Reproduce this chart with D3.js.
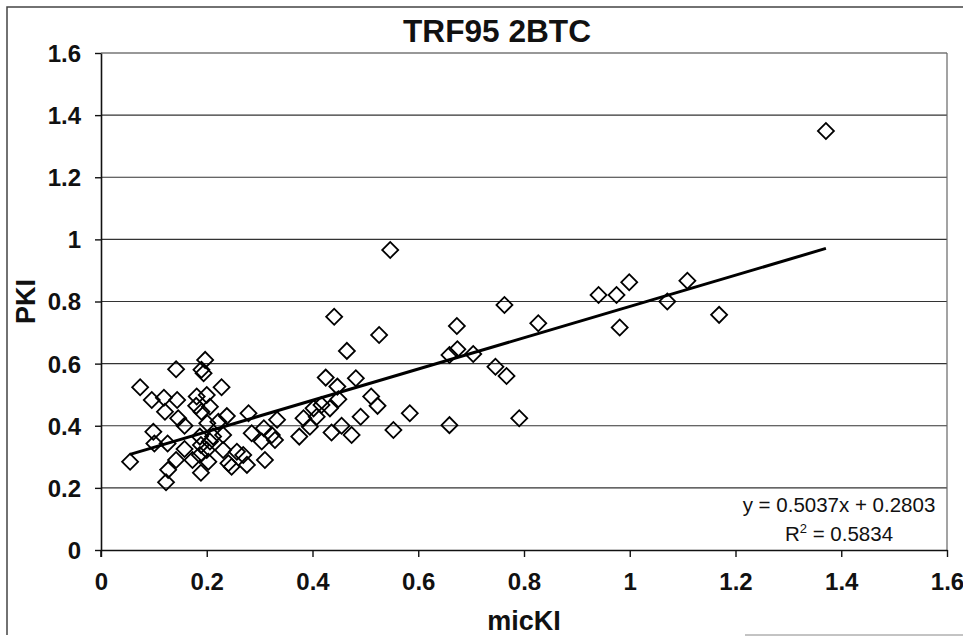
<!DOCTYPE html>
<html>
<head>
<meta charset="utf-8">
<script src="https://cdn.jsdelivr.net/npm/d3@7"></script>
<style>
  body { margin: 0; background: #fff; }
  text { font-family: "Liberation Sans", Arial, sans-serif; }
</style>
</head>
<body>
<div id="chart-area"></div>
<script>
// micKI (x) and PKI (y)
const micKI = [
  0.055, 0.074, 0.096, 0.099, 0.101, 0.119, 0.121, 0.126, 0.127, 0.123,
  0.142, 0.144, 0.146, 0.158, 0.142, 0.158, 0.173, 0.181, 0.180, 0.190,
  0.197, 0.194, 0.200, 0.206, 0.190, 0.201, 0.189, 0.187, 0.189, 0.200,
  0.203, 0.212, 0.222, 0.228, 0.238, 0.231, 0.231, 0.241, 0.257, 0.247,
  0.269, 0.276, 0.279, 0.285, 0.304, 0.310, 0.187, 0.206,
  0.441, 0.526, 0.465, 0.425, 0.482, 0.447, 0.449, 0.433, 0.511, 0.523,
  0.584, 0.553, 0.491, 0.474, 0.455, 0.436, 0.408, 0.395, 0.383, 0.375,
  0.402, 0.417, 0.333, 0.329, 0.308, 0.323,
  0.547,
  0.763, 0.673, 0.827, 0.659, 0.674, 0.704, 0.746, 0.767, 0.659, 0.791,
  0.941, 0.975, 0.999, 1.109, 1.071, 1.169, 0.981,
  1.371
];
const PKI = [
  0.284, 0.524, 0.483, 0.381, 0.343, 0.490, 0.445, 0.343, 0.258, 0.218,
  0.582, 0.483, 0.424, 0.400, 0.290, 0.325, 0.290, 0.494, 0.464, 0.580,
  0.612, 0.569, 0.499, 0.461, 0.445, 0.408, 0.338, 0.306, 0.249, 0.322,
  0.284, 0.365, 0.413, 0.524, 0.431, 0.370, 0.322, 0.279, 0.316, 0.268,
  0.306, 0.274, 0.440, 0.376, 0.349, 0.290, 0.365, 0.349,
  0.751, 0.692, 0.641, 0.555, 0.553, 0.526, 0.485, 0.456, 0.494, 0.464,
  0.440, 0.386, 0.429, 0.370, 0.400, 0.378, 0.429, 0.397, 0.424, 0.365,
  0.456, 0.467, 0.419, 0.354, 0.392, 0.370,
  0.966,
  0.789, 0.721, 0.730, 0.628, 0.646, 0.631, 0.590, 0.560, 0.402, 0.424,
  0.821, 0.821, 0.862, 0.867, 0.800, 0.757, 0.716,
  1.349
];
const xTicks = [0, 0.2, 0.4, 0.6, 0.8, 1, 1.2, 1.4, 1.6];
const yTicks = [0, 0.2, 0.4, 0.6, 0.8, 1, 1.2, 1.4, 1.6];
const slope = 0.5037;
const intercept = 0.2803;
const eqLabel = "y = 0.5037x + 0.2803";
const r2Value = "0.5834";

const data = micKI.map((d, i) => ({ x: d, y: PKI[i] }));

const W = 963, H = 637;
const margin = { top: 53, right: 16, bottom: 87, left: 101 };
const width = W - margin.left - margin.right;
const height = H - margin.top - margin.bottom;

const svg = d3.select("#chart-area")
  .append("svg")
    .attr("width", W)
    .attr("height", H);

// outer chart frame
svg.append("path")
  .attr("d", `M7,${H - 2} L7,7 L${W},7`)
  .attr("fill", "none")
  .attr("stroke", "#444")
  .attr("stroke-width", 1.5);
svg.append("line")
  .attr("x1", 745).attr("x2", W)
  .attr("y1", H - 2).attr("y2", H - 2)
  .attr("stroke", "#888")
  .attr("stroke-width", 1);

const g = svg.append("g")
  .attr("transform", `translate(${margin.left}, ${margin.top})`);

const x = d3.scaleLinear().domain([0, 1.6]).range([0, width]);
const y = d3.scaleLinear().domain([0, 1.6]).range([height, 0]);

// gridlines
g.selectAll(".grid")
  .data(yTicks.filter(d => d > 0))
  .enter().append("line")
    .attr("class", "grid")
    .attr("x1", 0).attr("x2", width)
    .attr("y1", d => y(d)).attr("y2", d => y(d))
    .attr("stroke", "#333")
    .attr("stroke-width", 1.2);

// right frame of plot area
g.append("line")
  .attr("x1", width).attr("x2", width)
  .attr("y1", 0).attr("y2", height)
  .attr("stroke", "#666")
  .attr("stroke-width", 1.2);

const xAxisCall = d3.axisBottom(x)
  .tickValues(xTicks)
  .tickSize(7)
  .tickSizeOuter(0)
  .tickPadding(13)
  .tickFormat(d3.format("~g"));
const yAxisCall = d3.axisLeft(y)
  .tickValues(yTicks)
  .tickSize(6)
  .tickSizeOuter(0)
  .tickPadding(14)
  .tickFormat(d3.format("~g"));

const xAxisGroup = g.append("g")
  .attr("transform", `translate(0, ${height})`)
  .call(xAxisCall);
const yAxisGroup = g.append("g")
  .call(yAxisCall);

[xAxisGroup, yAxisGroup].forEach(ax => {
  ax.select(".domain").attr("stroke", "#111").attr("stroke-width", 1.6);
  ax.selectAll(".tick line").attr("stroke", "#111").attr("stroke-width", 1.4);
  ax.selectAll("text")
    .attr("font-family", "'Liberation Sans', Arial, sans-serif")
    .attr("font-size", "24px")
    .attr("font-weight", "bold")
    .attr("fill", "#111");
});
xAxisGroup.selectAll(".tick text").attr("dy", "0.85em");
yAxisGroup.selectAll(".tick text").attr("dy", "0.35em");
// extend y axis below the x axis like the reference
yAxisGroup.append("line")
  .attr("x1", 0).attr("x2", 0)
  .attr("y1", height).attr("y2", height + 7)
  .attr("stroke", "#111").attr("stroke-width", 1.6);

// trendline over data range
const xExt = d3.extent(micKI);
g.append("line")
  .attr("x1", x(xExt[0])).attr("y1", y(slope * xExt[0] + intercept))
  .attr("x2", x(xExt[1])).attr("y2", y(slope * xExt[1] + intercept))
  .attr("stroke", "#000")
  .attr("stroke-width", 3);

// diamonds
const diamond = d3.symbol().type(d3.symbolSquare).size(128);
g.selectAll(".pt")
  .data(data)
  .enter().append("path")
    .attr("class", "pt")
    .attr("d", diamond)
    .attr("transform", d => `translate(${x(d.x)}, ${y(d.y)}) rotate(45)`)
    .attr("fill", "none")
    .attr("stroke", "#000")
    .attr("stroke-width", 1.8);

// equation labels
g.append("text")
  .attr("x", 738)
  .attr("y", height - 38)
  .attr("text-anchor", "middle")
  .attr("font-size", "20.5px")
  .attr("fill", "#111")
  .text(eqLabel);
const r2 = g.append("text")
  .attr("x", 738)
  .attr("y", height - 9)
  .attr("text-anchor", "middle")
  .attr("font-size", "20.5px")
  .attr("fill", "#111");
r2.append("tspan").text("R");
r2.append("tspan").attr("dy", -8).attr("font-size", "13px").text("2");
r2.append("tspan").attr("dy", 8).text(" = " + r2Value);

// title (condensed bold, like Arial Narrow)
svg.append("text")
  .attr("x", 497)
  .attr("y", 42)
  .attr("text-anchor", "middle")
  .attr("font-size", "31px")
  .attr("font-weight", "bold")
  .attr("fill", "#111")
  .attr("textLength", 188)
  .attr("lengthAdjust", "spacingAndGlyphs")
  .text("TRF95 2BTC");

// axis titles
svg.append("text")
  .attr("x", margin.left + width / 2)
  .attr("y", 630)
  .attr("text-anchor", "middle")
  .attr("font-size", "27px")
  .attr("font-weight", "bold")
  .attr("fill", "#111")
  .text("micKI");

svg.append("text")
  .attr("x", -(margin.top + height / 2))
  .attr("y", 35)
  .attr("transform", "rotate(-90)")
  .attr("text-anchor", "middle")
  .attr("font-size", "27px")
  .attr("font-weight", "bold")
  .attr("fill", "#111")
  .text("PKI");
</script>
</body>
</html>
